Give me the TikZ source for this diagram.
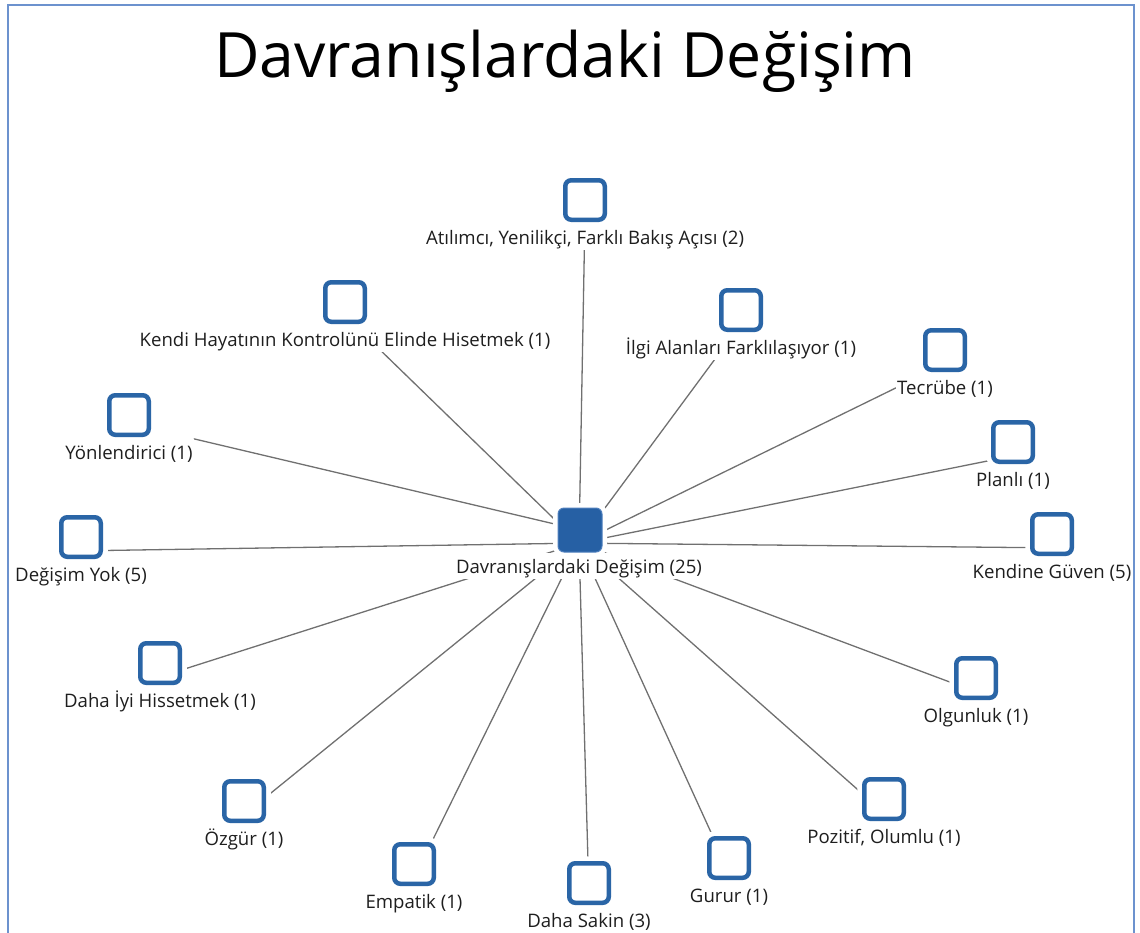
\documentclass[tikz,border=0pt]{standalone}
\usepackage{fontspec}
\setmainfont{Open Sans}
\usetikzlibrary{fit,backgrounds}

\definecolor{boxblue}{RGB}{42,101,166}
\definecolor{hubblue}{RGB}{38,96,164}
\definecolor{hubedge}{RGB}{80,128,190}
\definecolor{frameblue}{RGB}{108,146,206}
\definecolor{linkgray}{RGB}{112,112,112}
\definecolor{labeltext}{RGB}{30,30,30}

\tikzset{
  itembox/.style={draw=boxblue, line width=4.5pt, rounded corners=6pt,
    minimum size=39.5pt, inner sep=0pt, fill=white,
    preaction={draw=white, line width=14pt}},
  hubbox/.style={draw=hubedge, fill=hubblue, line width=1pt, rounded corners=6pt,
    minimum size=44pt, inner sep=0pt,
    preaction={draw=white, line width=10pt}},
  itemlabel/.style={font=\fontsize{18.6}{22}\selectfont, text=labeltext,
    fill=white, inner sep=1pt, text height=19pt, text depth=4.5pt, anchor=base},
  group/.style={inner sep=0pt},
  link/.style={draw=linkgray, line width=1.3pt},
}

% one code: its box, its label below, and the group a link points at
\newcommand{\codeitem}[4]{%
  \node[itembox] (b#1) at (#2,#3) {};
  \node[itemlabel] (l#1) at (#2,#3+44) {#4};
  \node[group, fit=(b#1)(l#1)] (g#1) {};
}

\begin{document}
\begin{tikzpicture}[x=1pt, y=-1pt]
\useasboundingbox (0,0) rectangle (1140,932);
\clip (0,0) rectangle (1140,932);

% outer frame (its lower edge lies below the page)
\coordinate (fbl) at (8,945);
\coordinate (ftl) at (8,5);
\coordinate (ftr) at (1134,5);
\coordinate (fbr) at (1134,945);
\draw[frameblue, line width=1.5pt] (fbl) -- (ftl) -- (ftr) -- (fbr);

% title
\node[font=\fontsize{62.5}{66}\selectfont, anchor=base, text=black] (title) at (565,77) {Davranışlardaki Değişim};

% hub
\node[hubbox] (hb) at (580,530) {};
\node[itemlabel] (hl) at (579,573) {Davranışlardaki Değişim (25)};
\node[group, fit=(hb)(hl)] (hub) {};

\codeitem{1}{585}{200}{Atılımcı, Yenilikçi, Farklı Bakış Açısı (2)}
\codeitem{2}{345}{302}{Kendi Hayatının Kontrolünü Elinde Hisetmek (1)}
\codeitem{3}{741}{310}{İlgi Alanları Farklılaşıyor (1)}
\codeitem{4}{945}{350}{Tecrübe (1)}
\codeitem{5}{129}{415}{Yönlendirici (1)}
\codeitem{6}{1013}{442}{Planlı (1)}
\codeitem{7}{81}{537}{Değişim Yok (5)}
\codeitem{8}{1052}{534}{Kendine Güven (5)}
\codeitem{9}{160}{663}{Daha İyi Hissetmek (1)}
\codeitem{10}{976}{678}{Olgunluk (1)}
\codeitem{11}{244}{801}{Özgür (1)}
\codeitem{12}{884}{799}{Pozitif, Olumlu (1)}
\codeitem{13}{414}{864}{Empatik (1)}
\codeitem{14}{589}{883}{Daha Sakin (3)}
\codeitem{15}{729}{858}{Gurur (1)}

% links, kept behind boxes and labels
\begin{scope}[on background layer]
  \foreach \i in {1,2,3,4,6,7,8,9,10,11,12,13,14,15}
    \draw[link] (hub.center) -- (g\i.center);
  \draw[link] (hb.center) -- (l5.north east);
\end{scope}
\end{tikzpicture}
\end{document}
